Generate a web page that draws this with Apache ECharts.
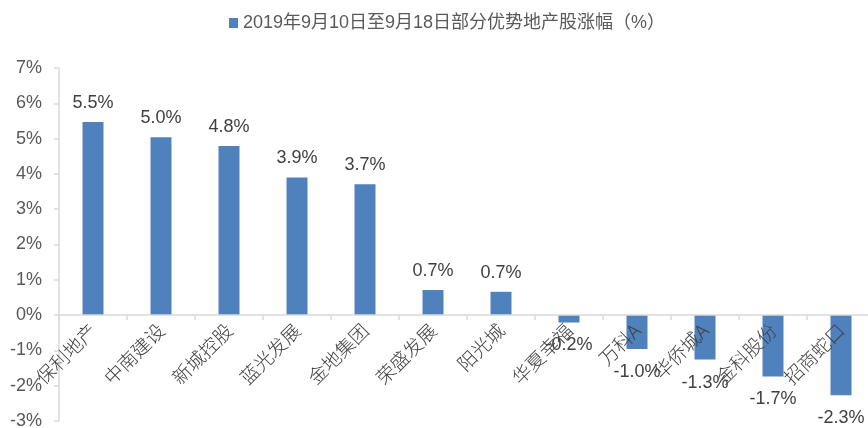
<!DOCTYPE html>
<html>
<head>
<meta charset="utf-8">
<script src="https://cdn.jsdelivr.net/npm/echarts@6/dist/echarts.min.js"></script>
<style>
  html, body { margin: 0; padding: 0; background: #fff; }
  #chart { width: 868px; height: 428px; }
</style>
</head>
<body>
<div id="chart"></div>
<script>
// 公司名称
const companies = ['保利地产', '中南建设', '新城控股', '蓝光发展', '金地集团', '荣盛发展',
  '阳光城', '华夏幸福', '万科A', '华侨城A', '金科股份', '招商蛇口']
// 涨幅（%），按柱高估读，标签保留一位小数
const changes = [5.47, 5.04, 4.79, 3.9, 3.71, 0.71, 0.66, -0.21, -0.96, -1.26, -1.74, -2.27]
const seriesName = '2019年9月10日至9月18日部分优势地产股涨幅（%）'
const yTicks = { min: -3, max: 7, step: 1 }

const chart = echarts.init(document.getElementById('chart'))
chart.setOption({
  animation: false,
  legend: {
    top: 9,
    left: 224,
    itemWidth: 9,
    itemHeight: 10,
    icon: 'rect',
    textStyle: { fontSize: 18, color: '#595959', fontFamily: 'Liberation Sans, "Noto Sans CJK SC"' },
    data: [seriesName]
  },
  grid: { left: 59, top: 68, width: 816, height: 353, containLabel: false, outerBoundsMode: 'none' },
  xAxis: {
    type: 'category',
    data: companies,
    z: 10,
    axisLine: { onZero: true, lineStyle: { color: '#D9D9D9', width: 1.5 } },
    axisTick: { show: true, length: 5, lineStyle: { color: '#D9D9D9', width: 1.5 } },
    axisLabel: {
      interval: 0,
      rotate: 45,
      margin: -94,
      fontSize: 19,
      color: '#404040',
      fontFamily: '"Noto Sans CJK SC"',
      fontWeight: 300
    }
  },
  yAxis: {
    type: 'value',
    min: yTicks.min,
    max: yTicks.max,
    interval: yTicks.step,
    splitLine: { show: false },
    axisLine: { show: true, lineStyle: { color: '#D9D9D9', width: 1.5 } },
    axisTick: { show: true, length: 5, lineStyle: { color: '#D9D9D9', width: 1.5 } },
    axisLabel: {
      formatter: '{value}%',
      margin: 17,
      fontSize: 18,
      color: '#595959',
      fontFamily: 'Liberation Sans'
    }
  },
  series: [{
    name: seriesName,
    type: 'bar',
    barWidth: 21,
    itemStyle: { color: '#4F81BD' },
    label: {
      show: true,
      fontSize: 18,
      color: '#404040',
      fontFamily: 'Liberation Sans',
      formatter: p => p.value.toFixed(1) + '%'
    },
    data: changes.map(v => ({
      value: v,
      label: v < 0 ? { position: 'bottom', distance: 14 } : { position: 'top', distance: 10 }
    }))
  }]
})
</script>
</body>
</html>
